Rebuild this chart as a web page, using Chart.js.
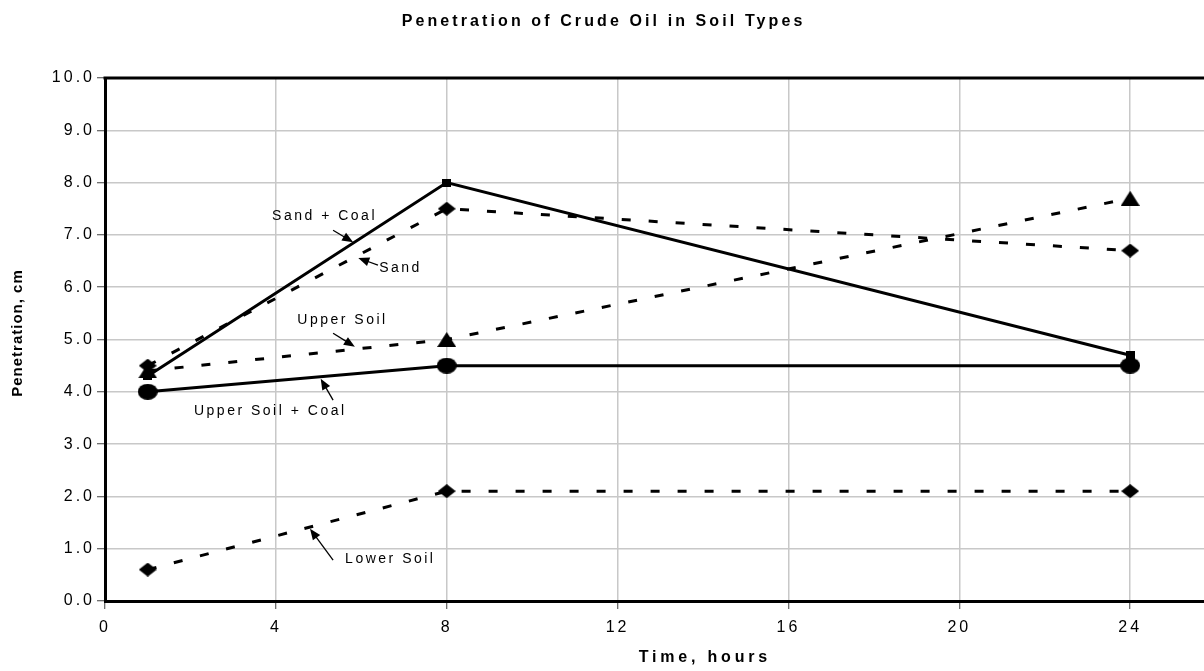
<!DOCTYPE html>
<html>
<head>
<meta charset="utf-8">
<title>Penetration of Crude Oil in Soil Types</title>
<script src="https://cdn.jsdelivr.net/npm/chart.js@4.4.1/dist/chart.umd.min.js"></script>
<style>
    html, body { margin: 0; padding: 0; background: #fff; overflow: hidden; }
    #wrap { width: 1330px; height: 671px; }
</style>
</head>
<body>
<div id="wrap"><canvas id="chart" width="1330" height="671"></canvas></div>
<script>
// Data
const timeHours = [1, 8, 24];
const sandCoal = [4.3, 8.0, 4.7];
const sand = [4.5, 7.5, 6.7];
const upperSoil = [4.4, 5.0, 7.7];
const upperSoilCoal = [4.0, 4.5, 4.5];
const lowerSoil = [0.6, 2.1, 2.1];

// Axis ranges and tick steps
const xRange = [0, 28];
const xStep = 4;
const yRange = [0, 10];
const yStep = 1;

// Labels with arrows: text centre, arrow tail, arrow head (data units)
const noteText = ['Sand + Coal', 'Sand', 'Upper Soil', 'Upper Soil + Coal', 'Lower Soil'];
const noteAt = [[5.11, 7.36], [6.89, 6.37], [5.53, 5.37], [3.84, 3.63], [6.65, 0.80]];
const noteTail = [[5.34, 7.09], [6.39, 6.42], [5.34, 5.12], [5.34, 3.84], [5.34, 0.78]];
const noteHead = [[5.81, 6.86], [5.93, 6.56], [5.85, 4.86], [5.05, 4.25], [4.80, 1.38]];

const FONT = 'Arial, "Liberation Sans", sans-serif';
const TICK_SPACING = 3;

// Small canvases used as point markers (Excel style shapes)
function makeMarker(shape, w, h) {
    const c = document.createElement('canvas');
    c.width = w;
    c.height = h;
    const g = c.getContext('2d');
    g.fillStyle = '#000';
    g.beginPath();
    if (shape === 'ellipse') {
        g.ellipse(w / 2, h / 2, w / 2, h / 2, 0, 0, Math.PI * 2);
    } else if (shape === 'diamond') {
        g.moveTo(w / 2, 0);
        g.lineTo(w, h / 2);
        g.lineTo(w / 2, h);
        g.lineTo(0, h / 2);
        g.closePath();
    } else if (shape === 'triangle') {
        g.moveTo(w / 2, 0);
        g.lineTo(w, h);
        g.lineTo(0, h);
        g.closePath();
    } else {
        g.rect(0, 0, w, h);
    }
    g.fill();
    return c;
}

const squareMark = makeMarker('rect', 9, 8);
const diamondMark = makeMarker('diamond', 18, 14);
const triangleMark = makeMarker('triangle', 19, 15);
const circleMark = makeMarker('ellipse', 20, 16);

function toPoints(values) {
    return values.map((v, i) => ({ x: timeHours[i], y: v }));
}

function series(label, values, marker, dashed) {
    return {
        label: label,
        data: toPoints(values),
        borderColor: '#000',
        backgroundColor: '#000',
        borderWidth: 3,
        borderDash: dashed ? [9, 18] : [],
        pointStyle: marker,
        pointRadius: 8,
        tension: 0
    };
}

// Draw text with letter spacing
function spacedText(ctx, text, x, y, font, spacing, align) {
    ctx.save();
    ctx.font = font;
    ctx.letterSpacing = spacing + 'px';
    ctx.fillStyle = '#000';
    ctx.textBaseline = 'middle';
    ctx.textAlign = 'left';
    const w = ctx.measureText(text).width - spacing;
    let start = x;
    if (align === 'center') start = x - w / 2;
    if (align === 'right') start = x - w;
    ctx.fillText(text, start, y);
    ctx.restore();
}

function drawArrow(ctx, x1, y1, x2, y2) {
    const ang = Math.atan2(y2 - y1, x2 - x1);
    const len = 11;
    const half = 4.5;
    ctx.save();
    ctx.strokeStyle = '#000';
    ctx.fillStyle = '#000';
    ctx.lineWidth = 1.3;
    ctx.beginPath();
    ctx.moveTo(x1, y1);
    ctx.lineTo(x2 - Math.cos(ang) * len * 0.8, y2 - Math.sin(ang) * len * 0.8);
    ctx.stroke();
    ctx.beginPath();
    ctx.moveTo(x2, y2);
    ctx.lineTo(x2 - Math.cos(ang) * len - Math.sin(ang) * half, y2 - Math.sin(ang) * len + Math.cos(ang) * half);
    ctx.lineTo(x2 - Math.cos(ang) * len + Math.sin(ang) * half, y2 - Math.sin(ang) * len - Math.cos(ang) * half);
    ctx.closePath();
    ctx.fill();
    ctx.restore();
}

// Tick label spacing, frame, notes and titles
const excelLook = {
    id: 'excelLook',
    beforeLayout(chart) {
        chart.ctx.letterSpacing = TICK_SPACING + 'px';
    },
    beforeDraw(chart) {
        chart.ctx.letterSpacing = TICK_SPACING + 'px';
    },
    afterDraw(chart) {
        const ctx = chart.ctx;
        const area = chart.chartArea;
        const xs = chart.scales.x;
        const ys = chart.scales.y;
        ctx.letterSpacing = '0px';

        // top and right edge of the plot frame
        ctx.save();
        ctx.strokeStyle = '#000';
        ctx.lineWidth = 3;
        ctx.beginPath();
        ctx.moveTo(area.left - 1.5, area.top);
        ctx.lineTo(area.right, area.top);
        ctx.lineTo(area.right, area.bottom);
        ctx.stroke();
        ctx.restore();

        // series labels with arrows
        noteText.forEach((t, i) => {
            drawArrow(ctx,
                xs.getPixelForValue(noteTail[i][0]), ys.getPixelForValue(noteTail[i][1]),
                xs.getPixelForValue(noteHead[i][0]), ys.getPixelForValue(noteHead[i][1]));
            spacedText(ctx, t,
                xs.getPixelForValue(noteAt[i][0]), ys.getPixelForValue(noteAt[i][1]),
                '14px ' + FONT, 2.5, 'center');
        });

        // chart title (centred on the visible window)
        spacedText(ctx, 'Penetration of Crude Oil in Soil Types', 602, 22,
            'bold 16px ' + FONT, 3.1, 'center');

        // x axis title
        spacedText(ctx, 'Time, hours', (area.left + area.right) / 2, 658,
            'bold 16px ' + FONT, 3.8, 'center');

        // y axis title
        ctx.save();
        ctx.translate(18, (area.top + area.bottom) / 2 - 6);
        ctx.rotate(-Math.PI / 2);
        spacedText(ctx, 'Penetration, cm', 0, 0, 'bold 15px ' + FONT, 1, 'center');
        ctx.restore();
    }
};

const ctx = document.getElementById('chart');

new Chart(ctx, {
    type: 'line',
    data: {
        datasets: [
            series('Upper Soil + Coal', upperSoilCoal, circleMark, false),
            series('Sand + Coal', sandCoal, squareMark, false),
            series('Upper Soil', upperSoil, triangleMark, true),
            series('Sand', sand, diamondMark, true),
            series('Lower Soil', lowerSoil, diamondMark, true)
        ]
    },
    options: {
        responsive: false,
        animation: false,
        events: [],
        layout: {
            padding: { top: 78, right: 29, left: 0, bottom: 0 }
        },
        plugins: {
            legend: { display: false },
            title: { display: false },
            tooltip: { enabled: false }
        },
        scales: {
            x: {
                type: 'linear',
                min: xRange[0],
                max: xRange[1],
                ticks: {
                    stepSize: xStep,
                    color: '#000',
                    padding: 9,
                    maxRotation: 0,
                    font: { family: FONT, size: 16 }
                },
                grid: {
                    color: '#c8c8c8',
                    lineWidth: 1.5,
                    tickColor: '#404040',
                    tickWidth: 1,
                    tickLength: 8
                },
                border: { color: '#000', width: 3 },
                afterFit(scale) {
                    scale.height = 70;
                }
            },
            y: {
                type: 'linear',
                min: yRange[0],
                max: yRange[1],
                ticks: {
                    stepSize: yStep,
                    color: '#000',
                    padding: 2,
                    font: { family: FONT, size: 16 },
                    callback: v => Number(v).toFixed(1)
                },
                grid: {
                    color: '#c8c8c8',
                    lineWidth: 1.5,
                    tickColor: '#404040',
                    tickWidth: 1,
                    tickLength: 8
                },
                border: { color: '#000', width: 3 },
                afterFit(scale) {
                    scale.width = 105;
                }
            }
        }
    },
    plugins: [excelLook]
});
</script>
</body>
</html>
